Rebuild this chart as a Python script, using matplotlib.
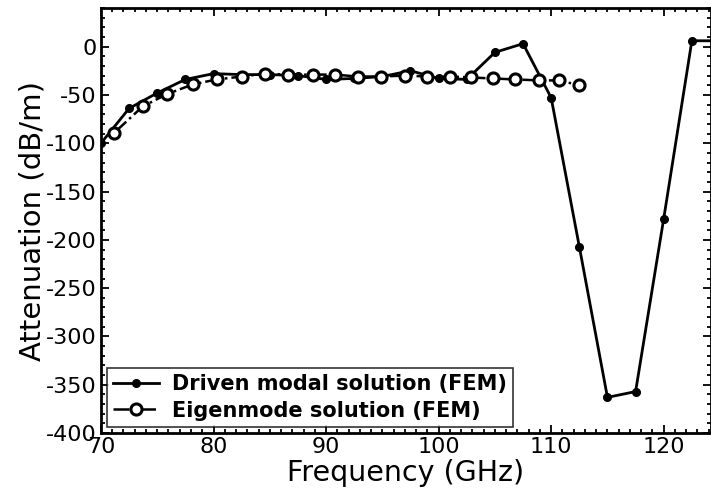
import numpy as np
from matplotlib import pyplot as plt
from matplotlib.ticker import MultipleLocator

plt.rcParams["font.family"] = ["DejaVu Sans"]
plt.rcParams["axes.unicode_minus"] = False

# driven modal solution (FEM)
driven_freq = [70, 72.5, 75, 77.5, 80, 82.5, 85, 87.5, 90, 92.5, 95, 97.5,
               100, 102.5, 105, 107.5, 110, 112.5, 115, 117.5, 120, 122.5, 125]
driven_att = [-100, -64, -48, -34, -28, -29, -29, -30, -34, -33, -31, -25,
              -33, -34, -6, 3, -53, -207, -363, -357, -178, 6, 6]

# eigenmode solution (FEM)
eigen_freq = [71.2, 73.7, 75.9, 78.2, 80.3, 82.5, 84.6, 86.6, 88.8, 90.8, 92.8,
              94.9, 97.0, 99.0, 101.0, 102.9, 104.8, 106.8, 108.9, 110.7, 112.5]
eigen_att = [-89, -62, -49, -39, -34, -31, -28, -29, -29, -29, -31,
             -31, -30, -31, -31, -32, -33, -34, -35, -35, -40]

fig = plt.figure(figsize=(7.11, 4.95), dpi=100)
ax = fig.add_axes([0.142, 0.125, 0.858, 0.859])

ax.plot(driven_freq, driven_att, "-", color="black", lw=2, marker="o",
        ms=5.5, label="Driven modal solution (FEM)")
ax.plot(eigen_freq, eigen_att, "-.", color="black", lw=1.8, marker="o",
        ms=8, mfc="white", mec="black", mew=2.2,
        label="Eigenmode solution (FEM)")

ax.set_xlim(70, 124.2)
ax.set_ylim(-400, 40)
ax.xaxis.set_major_locator(MultipleLocator(10))
ax.xaxis.set_minor_locator(MultipleLocator(1))
ax.yaxis.set_major_locator(MultipleLocator(50))
ax.yaxis.set_minor_locator(MultipleLocator(10))
ax.tick_params(which="both", direction="in", top=True, right=True, labelsize=16, width=1.3)
ax.tick_params(which="major", length=6, pad=3)
ax.tick_params(which="minor", length=3)
for s in ax.spines.values():
    s.set_linewidth(2)

ax.set_xlabel("Frequency (GHz)", fontsize=20.5, labelpad=1)
ax.set_ylabel("Attenuation (dB/m)", fontsize=21, labelpad=0)

leg = ax.legend(loc="lower left", prop={"weight": "bold", "size": 15},
                frameon=True, fancybox=False, edgecolor="black",
                borderaxespad=0.3, handlelength=2.2, labelspacing=0.3,
                borderpad=0.3, handletextpad=0.6)
leg.get_frame().set_linewidth(1.2)

fig.savefig("out.png", dpi=100)
